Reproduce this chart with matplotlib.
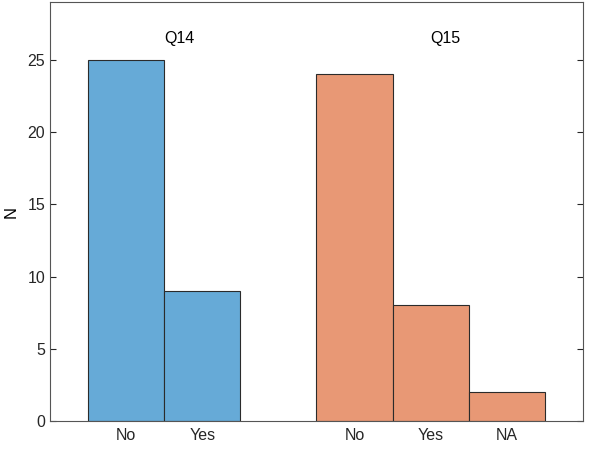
import matplotlib.pyplot as plt
import numpy as np

plt.rcParams['font.family'] = ['Liberation Sans', 'DejaVu Sans']

q14_labels = ["No", "Yes"]
q14_counts = [25, 9]
q15_labels = ["No", "Yes", "NA"]
q15_counts = [24, 8, 2]

q14_pos = np.array([1, 2])
q15_pos = np.array([4, 5, 6])

fig = plt.figure(figsize=(5.89, 4.51), dpi=100)
ax = fig.add_axes([0.0849, 0.0665, 0.9049, 0.929])

ax.bar(q14_pos, q14_counts, width=1.0, color="#66aad7", edgecolor="#2b2b2b", linewidth=0.8)
ax.bar(q15_pos, q15_counts, width=1.0, color="#e89875", edgecolor="#2b2b2b", linewidth=0.8)

ax.text(1.5, 26.5, "Q14", va="center", ha="left", fontsize=11.5)
ax.text(5.0, 26.5, "Q15", va="center", ha="left", fontsize=11.5)

ax.set_xlim(0, 7)
ax.set_ylim(0, 29)
ax.set_xticks(np.concatenate([q14_pos, q15_pos]))
ax.set_xticklabels(q14_labels + q15_labels)
ax.set_yticks([0, 5, 10, 15, 20, 25])
ax.set_ylabel("N", fontsize=12, labelpad=6)

ax.tick_params(axis="x", length=0, labelsize=11.5, pad=5, colors="#262626")
ax.tick_params(axis="y", direction="in", right=True, length=4, labelsize=11.5, colors="#262626")
for s in ax.spines.values():
    s.set_color("#555555")
    s.set_linewidth(0.8)

fig.savefig("out.png", dpi=100)
